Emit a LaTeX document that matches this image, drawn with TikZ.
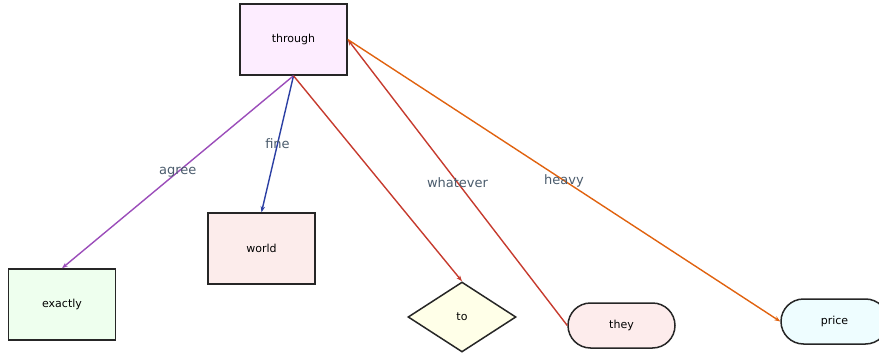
\documentclass[tikz,border=0pt]{standalone}
\usepackage{fontspec}
\setmainfont{DejaVu Sans}
\usetikzlibrary{shapes.geometric,shapes.misc,arrows.meta}
\definecolor{cPurple}{HTML}{9B4DBA}
\definecolor{cBlue}{HTML}{2B3FA3}
\definecolor{cRed}{HTML}{C63B2E}
\definecolor{cOrange}{HTML}{E0620F}
\definecolor{cLabel}{HTML}{4A5B6C}
\tikzset{
  box/.style={draw=black!85, line width=1.5pt, minimum width=107pt, minimum height=71pt, inner sep=0pt, font=\fontsize{11}{13}\selectfont},
  dia/.style={diamond, draw=black!85, line width=1.5pt, minimum width=108pt, minimum height=70pt, aspect=1.54, inner sep=0pt, font=\fontsize{11}{13}\selectfont},
  pill/.style={rounded rectangle, draw=black!85, line width=1.5pt, minimum width=107pt, minimum height=45pt, inner sep=0pt, font=\fontsize{11}{13}\selectfont},
  conn/.style={line width=1.4pt, -{Stealth[length=6pt,width=4.5pt]}},
  elab/.style={font=\fontsize{13}{15}\selectfont, text=cLabel, inner sep=1pt}
}
\begin{document}
\begin{tikzpicture}[x=1pt,y=-1pt]
\useasboundingbox (0,0) rectangle (879,356);
\node[box, fill={rgb,255:red,253;green,237;blue,255}] (through) at (293.5,39.5) {through};
\node[box, fill={rgb,255:red,252;green,236;blue,235}] (world) at (261.5,248.5) {world};
\node[box, fill={rgb,255:red,238;green,255;blue,238}] (exactly) at (62,304.5) {exactly};
\node[dia, fill={rgb,255:red,255;green,255;blue,232}] (to) at (462,317) {to};
\node[pill, fill={rgb,255:red,253;green,236;blue,236}] (they) at (621.5,325.5) {they};
\node[pill, fill={rgb,255:red,238;green,253;blue,255}] (price) at (834.5,321.5) {price};
\draw[conn, cPurple] (through.south) -- (exactly.north) node[elab, midway] {agree};
\draw[conn, cBlue] (through.south) -- (world.north) node[elab, midway] {fine};
\draw[conn, cRed] (through.south) -- (to.north);
\draw[conn, cRed] (they.west) -- (through.east) node[elab, midway] {whatever};
\draw[conn, cOrange] (through.east) -- (price.west) node[elab, midway] {heavy};
\end{tikzpicture}
\end{document}
